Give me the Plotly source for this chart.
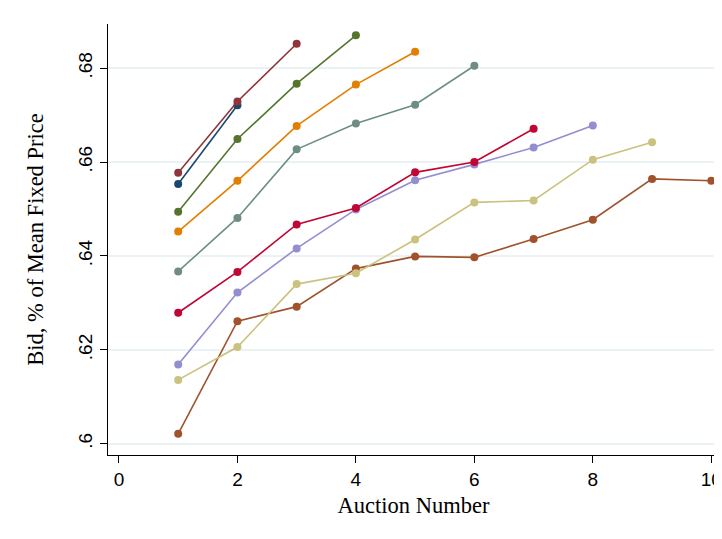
import plotly.graph_objects as go

auction = [1, 2, 3, 4, 5, 6, 7, 8, 9, 10]

maroon = [0.6577, 0.6729, 0.6852]
navy = [0.6553, 0.6721]
forest = [0.6494, 0.6649, 0.6767, 0.6870]
orange = [0.6452, 0.6560, 0.6677, 0.6765, 0.6835]
teal = [0.6367, 0.6481, 0.6627, 0.6682, 0.6722, 0.6805]
cranberry = [0.6279, 0.6366, 0.6467, 0.6502, 0.6578, 0.6600, 0.6671]
lavender = [0.6169, 0.6322, 0.6416, 0.6499, 0.6561, 0.6595, 0.6631, 0.6678]
khaki = [0.6136, 0.6206, 0.6340, 0.6363, 0.6435, 0.6514, 0.6518, 0.6605, 0.6642]
sienna = [0.6021, 0.6261, 0.6292, 0.6373, 0.6399, 0.6397, 0.6436, 0.6477, 0.6564, 0.6560]

series = [
    (sienna, "#a0522d"),
    (khaki, "#cac27e"),
    (lavender, "#938dd2"),
    (cranberry, "#c10534"),
    (teal, "#6e8e84"),
    (orange, "#e37e00"),
    (forest, "#55752f"),
    (navy, "#1a476f"),
    (maroon, "#90353b"),
]

y_ticks = [0.60, 0.62, 0.64, 0.66, 0.68]
y_ticktext = [".6", ".62", ".64", ".66", ".68"]
x_ticks = [0, 2, 4, 6, 8, 10]

fig = go.Figure()
for vals, col in series:
    fig.add_trace(go.Scatter(
        x=auction[:len(vals)], y=vals, mode="lines+markers",
        line=dict(color=col, width=1.6),
        marker=dict(color=col, size=8),
        showlegend=False,
    ))

fig.update_layout(
    width=722, height=539,
    margin=dict(l=100, r=8, t=16, b=92),
    paper_bgcolor="white", plot_bgcolor="white",
    xaxis=dict(
        range=[-0.185, 10.13], tickvals=x_ticks,
        showgrid=False, zeroline=False,
        showline=True, linecolor="black", linewidth=1,
        ticks="outside", ticklen=7, tickcolor="black",
        tickfont=dict(family="Liberation Sans, Arial", size=19, color="black"),
        title=dict(text="Auction Number", standoff=8,
                   font=dict(family="Liberation Serif, Times New Roman", size=22.5, color="black")),
    ),
    yaxis=dict(
        range=[0.5976, 0.6894], tickvals=y_ticks, ticktext=y_ticktext,
        tickangle=-90,
        showgrid=True, gridcolor="#eaf2f3", gridwidth=1.5, zeroline=False,
        showline=True, linecolor="black", linewidth=1,
        ticks="outside", ticklen=7, tickcolor="black",
        tickfont=dict(family="Liberation Sans, Arial", size=19, color="black"),
        title=dict(text="Bid, % of Mean Fixed Price", standoff=25,
                   font=dict(family="Liberation Serif, Times New Roman", size=22.5, color="black")),
    ),
)

fig.write_html("out.html")
